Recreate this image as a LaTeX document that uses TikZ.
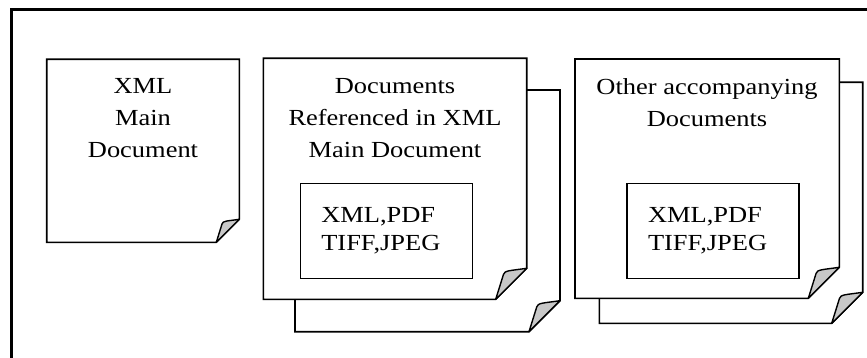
\documentclass[tikz,border=0pt]{standalone}
\usepackage{fontspec}
\usepackage{tikz}

\newfontfamily\docfont[FakeStretch=1.15]{Liberation Serif}
\definecolor{flapgray}{RGB}{200,200,200}

% page with a curled corner: x1, y1, x2, y2, fold
\newcommand{\docpage}[5]{%
    \draw [page] (#1,#2) -- (#3,#2) -- (#3,#4-#5) -- (#3-#5,#4) -- (#1,#4) -- cycle;
    \draw [flap] (#3-#5,#4) -- (#3-0.75*#5,#4-0.8*#5)
        .. controls (#3-0.72*#5,#4-0.93*#5) and (#3-0.55*#5,#4-0.92*#5) .. (#3,#4-#5) -- cycle;}

\begin{document}
\begin{tikzpicture}[x=1pt, y=-1pt]
        \tikzset{page/.style={draw, fill=white, line width=1.6pt, line join=miter},
                 flap/.style={draw, fill=flapgray, line width=1.4pt, line join=round},
                 title/.style={anchor=north, inner sep=0pt, align=center,
                               font={\docfont\fontsize{23}{32}\selectfont}},
                 formats/.style={draw, line width=1.5pt, minimum width=172pt, minimum height=95pt,
                                 text width=130pt, align=left,
                                 font={\docfont\fontsize{23}{28}\selectfont}}}
        \useasboundingbox (0,0) rectangle (867,358);
        \draw [line width=3pt] (867,9.5) -- (11.3,9.5) -- (11.3,358);
        % main document
        \docpage{46.7}{59.3}{239.3}{242.3}{23}
        \node [title] (maintxt) at (143,78) {XML\\Main\\Document};
        % referenced documents
        \docpage{295}{90}{560}{331.7}{31}
        \docpage{263.3}{58.3}{526.7}{299.3}{31}
        \node [title] (reftxt) at (395,78) {Documents\\Referenced in XML\\Main Document};
        \node [formats] (reffmt) at (386.3,230.8) {XML,PDF\\TIFF,JPEG};
        % other documents
        \docpage{599.3}{82.3}{862.7}{323.3}{31}
        \docpage{575}{59}{839.3}{298.3}{31}
        \node [title] (othertxt) at (707,78) {Other accompanying\\Documents};
        \node [formats] (otherfmt) at (713,230.8) {XML,PDF\\TIFF,JPEG};
\end{tikzpicture}
\end{document}
